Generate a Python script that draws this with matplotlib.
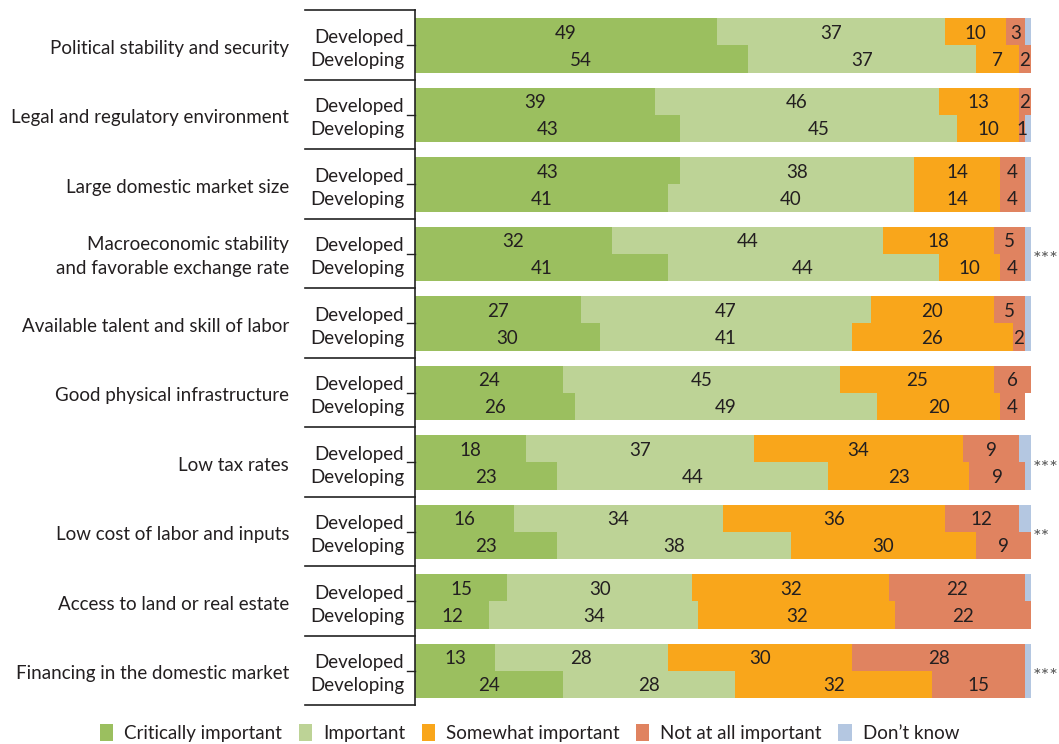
import matplotlib
matplotlib.use("Agg")
import matplotlib.pyplot as plt
from matplotlib.patches import Patch
from matplotlib.lines import Line2D

plt.rcParams['font.family'] = ['Lato', 'DejaVu Sans']

factors = [
    "Political stability and security",
    "Legal and regulatory environment",
    "Large domestic market size",
    "Macroeconomic stability\nand favorable exchange rate",
    "Available talent and skill of labor",
    "Good physical infrastructure",
    "Low tax rates",
    "Low cost of labor and inputs",
    "Access to land or real estate",
    "Financing in the domestic market",
]
groups = ["Developed", "Developing"]
levels = ["Critically important", "Important", "Somewhat important",
          "Not at all important", "Don\u2019t know"]
stars = ["", "", "", "***", "", "", "***", "**", "", "***"]

# percent shares, one list per factor: [critical, important, somewhat, not at all, don't know]
developed = [
    [49, 37, 10, 3, 1],
    [39, 46, 13, 2, 1],
    [43, 38, 14, 4, 1],
    [32, 44, 18, 5, 1],
    [27, 47, 20, 5, 1],
    [24, 45, 25, 6, 1],
    [18, 37, 34, 9, 2],
    [16, 34, 36, 12, 2],
    [15, 30, 32, 22, 2],
    [13, 28, 30, 28, 2],
]
developing = [
    [54, 37, 7, 2, 0],
    [43, 45, 10, 1, 1],
    [41, 40, 14, 4, 1],
    [41, 44, 10, 4, 1],
    [30, 41, 26, 2, 1],
    [26, 49, 20, 4, 0],
    [23, 44, 23, 9, 1],
    [23, 38, 30, 9, 0],
    [12, 34, 32, 22, 1],
    [24, 28, 32, 15, 2],
]

colors = ["#9bbf5f", "#bdd396", "#f9a61b", "#e08360", "#b4c7e1"]
txt = "#231f20"

fig = plt.figure(figsize=(10.59, 7.44), dpi=100)
W, H = 1059, 744
x0, x1 = 415, 1031
ytop, ybot = 10, 705
ax = fig.add_axes([x0 / W, 1 - ybot / H, (x1 - x0) / W, (ybot - ytop) / H])
n = len(factors)
ax.set_xlim(0, 100)
ax.set_ylim(n, 0)
ax.axis("off")

bar_h = 0.39
offsets = [0.317, 0.705]
for i in range(n):
    for g, rows in enumerate([developed, developing]):
        y = i + offsets[g]
        left = 0
        for k, v in enumerate(rows[i]):
            if v > 0:
                ax.barh(y, v, left=left, height=bar_h, color=colors[k], linewidth=0)
            if k < 4:
                ax.text(left + v / 2, y + 0.02, str(v), ha="center", va="center",
                        fontsize=13.5, color=txt)
            left += v

# left-side frame: group separators, vertical rule and mid ticks
fx = lambda px: px / W
fy = lambda py: 1 - py / H
gh = (ybot - ytop) / n
for i in range(n + 1):
    yy = ytop + i * gh
    fig.add_artist(Line2D([fx(305), fx(415)], [fy(yy), fy(yy)], color="#222222", lw=1.2))
fig.add_artist(Line2D([fx(415), fx(415)], [fy(ytop), fy(ybot)], color="#222222", lw=1.2))

label_pos = [0.39, 0.725]
for i in range(n):
    ym = ytop + (i + 0.51) * gh
    fig.add_artist(Line2D([fx(407), fx(415)], [fy(ym), fy(ym)], color="#222222", lw=1.0))
    for g in range(2):
        yg = ytop + (i + label_pos[g]) * gh
        fig.text(fx(404), fy(yg), groups[g], ha="right", va="center",
                 fontsize=13.5, color=txt)
    fig.text(fx(289), fy(ytop + (i + 0.55) * gh), factors[i], ha="right",
             va="center", fontsize=13.5, color=txt, linespacing=1.5)
    if stars[i]:
        fig.text(fx(1033), fy(ytop + (i + 0.59) * gh), stars[i], ha="left",
                 va="center", fontsize=14.5, color="#555555")

handles = [Patch(facecolor=c, edgecolor="none") for c in colors]
fig.legend(handles, levels, loc="center", bbox_to_anchor=(0.5, fy(733)),
           ncol=5, frameon=False, fontsize=13.5, handlelength=0.7,
           handleheight=1.0, handletextpad=0.6, columnspacing=0.88,
           labelcolor=txt)

fig.savefig("out.png", dpi=100)
